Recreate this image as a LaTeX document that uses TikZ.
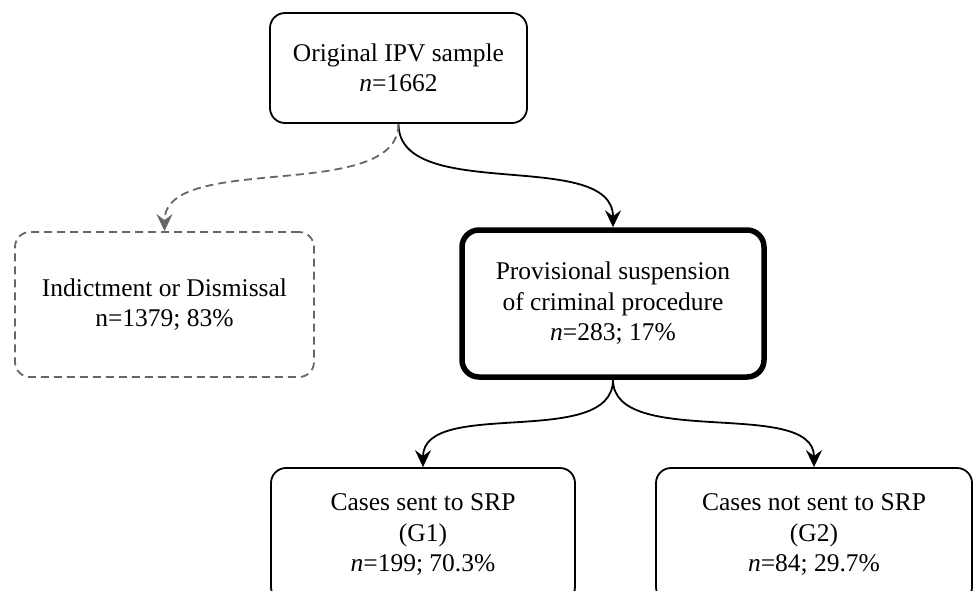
\documentclass[tikz,border=0pt]{standalone}
\usepackage{fontspec}
\setmainfont{Liberation Serif}
\usetikzlibrary{arrows.meta}
\definecolor{dashgray}{RGB}{102,102,102}
\begin{document}
\begin{tikzpicture}[x=1pt,y=-1pt,
  box/.style={draw=black, line width=1.8pt, rounded corners=15pt, align=center,
    font=\fontsize{25.5}{30.5}\selectfont, inner sep=0pt, fill=white},
  thickbox/.style={box, line width=5.5pt, rounded corners=17pt},
  dashbox/.style={box, draw=dashgray, dash pattern=on 8pt off 5pt},
  conn/.style={line width=1.8pt, draw=black, -{Stealth[length=17pt,width=16pt,inset=6pt]}},
  dashconn/.style={line width=1.8pt, draw=dashgray, dash pattern=on 8pt off 5pt,
    -{Stealth[length=17pt,width=16pt,inset=6pt,fill=dashgray]}}]
\useasboundingbox (0,0) rectangle (974,590);
\fill[white] (0,0) rectangle (974,590);
\node[box, minimum width=257pt, minimum height=110pt] (orig) at (398.5,68) {Original IPV sample\\\textit{n}=1662};
\node[dashbox, minimum width=299pt, minimum height=145pt] (ind) at (164.5,304.5) {Indictment or Dismissal\\n=1379; 83\%};
\node[thickbox, minimum width=302pt, minimum height=147pt] (prov) at (613,303.5) {Provisional suspension\\of criminal procedure\\\textit{n}=283; 17\%};
\node[box, minimum width=304pt, minimum height=134pt] (g1) at (423,535) {Cases sent to SRP\\(G1)\\\textit{n}=199; 70.3\%};
\node[box, minimum width=316pt, minimum height=134pt] (g2) at (814,535) {Cases not sent to SRP\\(G2)\\\textit{n}=84; 29.7\%};
\draw[conn] (orig.south) .. controls +(0,80) and +(0,-80) .. (prov.north);
\draw[dashconn] (orig.south) .. controls +(0,80) and +(0,-80) .. (ind.north);
\draw[conn] (prov.south) .. controls +(0,70) and +(0,-70) .. (g1.north);
\draw[conn] (prov.south) .. controls +(0,70) and +(0,-70) .. (g2.north);
\end{tikzpicture}
\end{document}
